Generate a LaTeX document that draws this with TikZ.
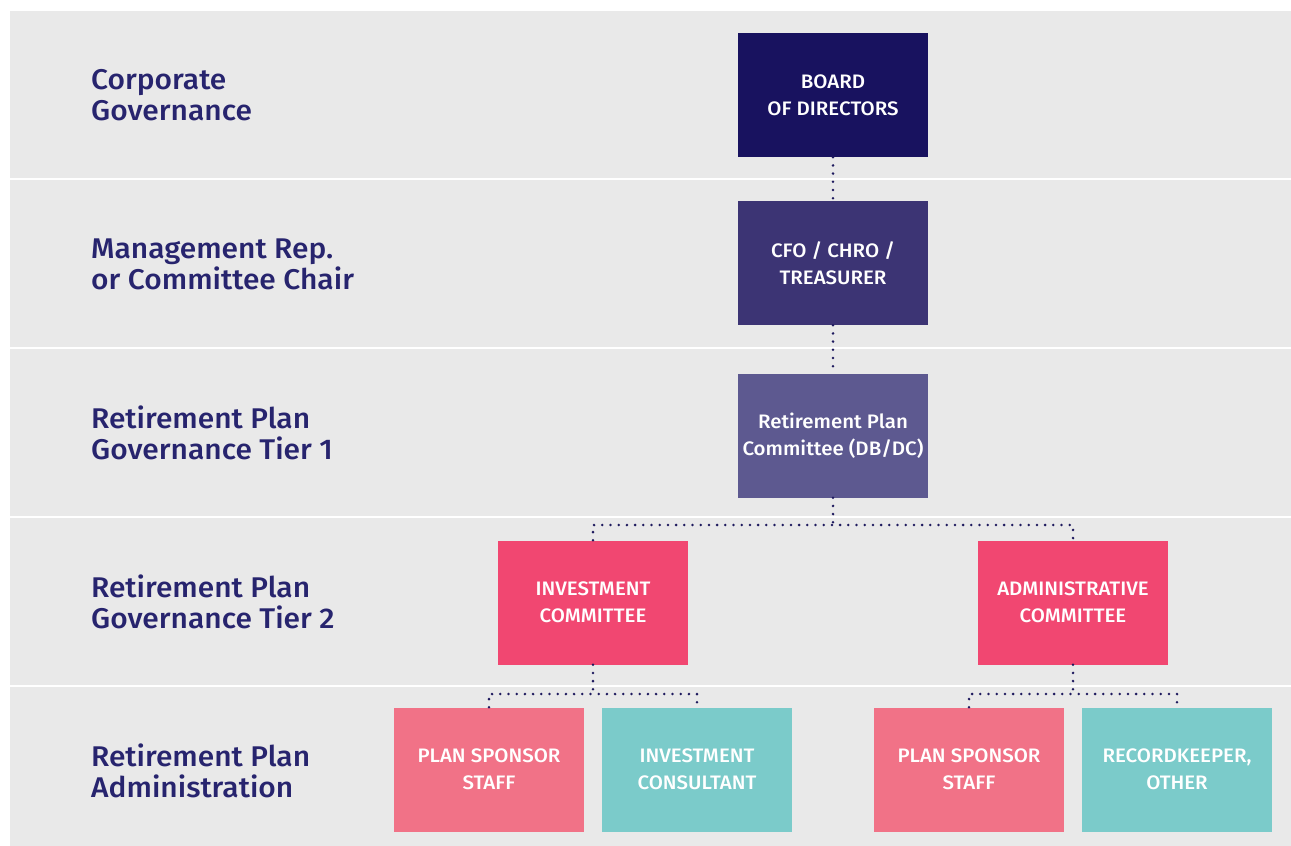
\documentclass[tikz,border=0pt]{standalone}
\usepackage{fontspec}
\setmainfont{Fira Sans Medium}[FakeStretch=1.05]
\begin{document}
\begin{tikzpicture}[x=1pt,y=-1pt,
  band/.style={fill=bandgrey,draw=none},
  lbl/.style={anchor=west,align=left,text=lblnavy,font=\fontsize{28.5}{31}\selectfont,inner sep=0pt},
  box/.style={minimum width=190pt,minimum height=124pt,inner sep=0pt,align=center,text=white,font=\fontsize{19.5}{27}\selectfont},
  dotline/.style={draw=dotnavy,line width=2.8pt,line cap=round,dash pattern=on 0pt off 8.2pt}]
\definecolor{bandgrey}{HTML}{E9E9E9}
\definecolor{lblnavy}{HTML}{27246E}
\definecolor{dotnavy}{HTML}{1E1A5E}
\definecolor{c1}{HTML}{18125F}
\definecolor{c2}{HTML}{3C3474}
\definecolor{c3}{HTML}{5D5990}
\definecolor{cpink}{HTML}{F14771}
\definecolor{clpink}{HTML}{F17287}
\definecolor{cteal}{HTML}{7BCBCA}
\useasboundingbox (0,0) rectangle (1291,846);
\fill[white] (0,0) rectangle (1291,846);
% bands
\path[band] (10,11) rectangle (1291,178);
\path[band] (10,180) rectangle (1291,347);
\path[band] (10,349) rectangle (1291,516);
\path[band] (10,518) rectangle (1291,685);
\path[band] (10,687) rectangle (1291,846);
% labels
\node[lbl] (l1) at (91,95) {Corporate\\Governance};
\node[lbl] (l2) at (91,264) {Management Rep.\\or Committee Chair};
\node[lbl] (l3) at (91,433) {Retirement Plan\\Governance Tier 1};
\node[lbl] (l4) at (91,602) {Retirement Plan\\Governance Tier 2};
\node[lbl] (l5) at (91,771) {Retirement Plan\\Administration};
% boxes
\node[box,fill=c1] (bod) at (833,95) {BOARD\\OF DIRECTORS};
\node[box,fill=c2] (cfo) at (833,263) {CFO / CHRO /\\TREASURER};
\node[box,fill=c3] (rpc) at (833,435.5) {Retirement Plan\\Committee (DB/DC)};
\node[box,fill=cpink] (inv) at (593,602.5) {INVESTMENT\\COMMITTEE};
\node[box,fill=cpink] (adm) at (1073,602.5) {ADMINISTRATIVE\\COMMITTEE};
\node[box,fill=clpink] (pss1) at (489,769.5) {PLAN SPONSOR\\STAFF};
\node[box,fill=cteal] (ic) at (697,769.5) {INVESTMENT\\CONSULTANT};
\node[box,fill=clpink] (pss2) at (969,769.5) {PLAN SPONSOR\\STAFF};
\node[box,fill=cteal] (rk) at (1177,769.5) {RECORDKEEPER,\\OTHER};
% junctions
\coordinate (j1) at (833,525);
\coordinate (j2) at (593,694);
\coordinate (j3) at (1073,694);
% connectors
\draw[dotline] (bod.south) -- (cfo.north);
\draw[dotline] (cfo.south) -- (rpc.north);
\draw[dotline] (rpc.south) -- (j1);
\draw[dotline] (inv.north) |- (j1) -| (adm.north);
\draw[dotline] (inv.south) -- (j2);
\draw[dotline] (pss1.north) |- (j2) -| (ic.north);
\draw[dotline] (adm.south) -- (j3);
\draw[dotline] (pss2.north) |- (j3) -| (rk.north);
\end{tikzpicture}
\end{document}
